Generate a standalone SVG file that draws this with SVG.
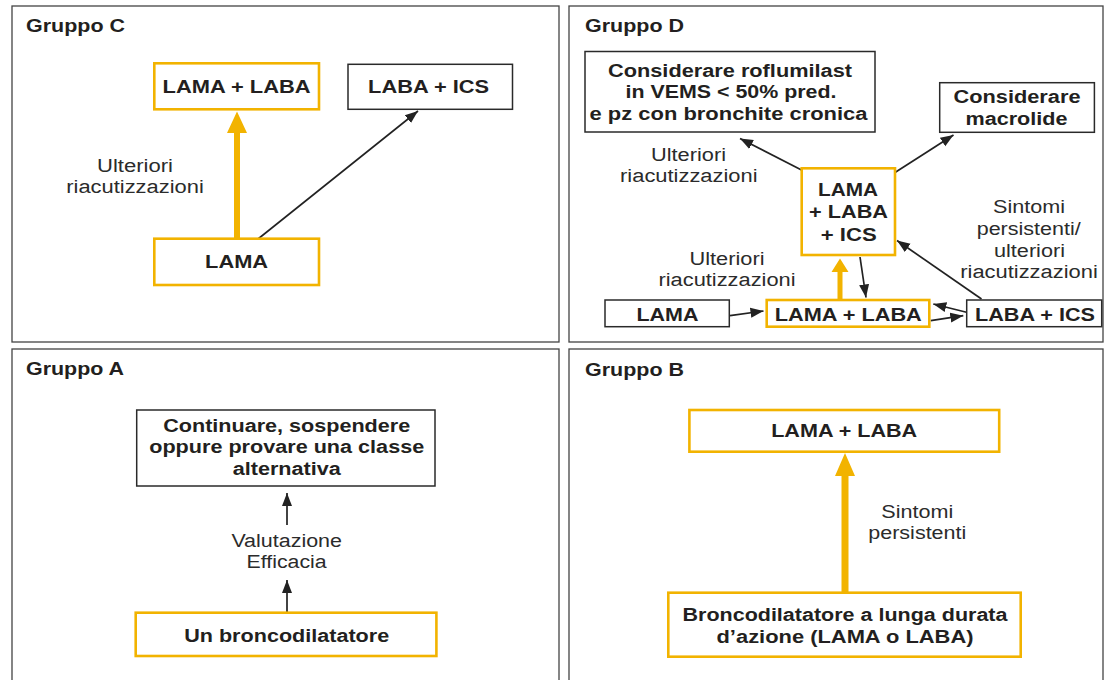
<svg xmlns="http://www.w3.org/2000/svg" width="1104" height="680" viewBox="0 0 1104 680">
<style>
.panel{fill:#fff;stroke:#444;stroke-width:1.3}
.nb{fill:#fff;stroke:#2a2a2a;stroke-width:1.5}
.no{fill:#fff;stroke:#F2B300;stroke-width:2.6}
.t{font-family:"Liberation Sans",Arial,sans-serif;font-size:18px;font-weight:bold;fill:#231f20;text-anchor:middle}
.h{font-family:"Liberation Sans",Arial,sans-serif;font-size:18px;font-weight:bold;fill:#231f20}
.l{font-family:"Liberation Sans",Arial,sans-serif;font-size:18px;fill:#2b2b2b;text-anchor:middle}
.c{stroke:#222;stroke-width:1.7;fill:none;marker-end:url(#ah)}
.o{fill:#F2B300;stroke:none}
</style>
<defs>
<marker id="ah" markerUnits="userSpaceOnUse" markerWidth="14" markerHeight="12" refX="13" refY="5" orient="auto" viewBox="0 0 14 10">
<path d="M0,0 L13,5 L0,10 Z" fill="#222"/>
</marker>
</defs>
<rect x="0" y="0" width="1104" height="680" fill="#fff"/>

<g id="panel-C">
<rect class="panel" x="12" y="6" width="547" height="336"/>
<text class="h" x="26" y="31.5" textLength="99" lengthAdjust="spacingAndGlyphs">Gruppo C</text>
</g>
<g id="panel-D">
<rect class="panel" x="569" y="6" width="534" height="336"/>
<text class="h" x="585" y="31.5" textLength="99" lengthAdjust="spacingAndGlyphs">Gruppo D</text>
</g>
<g id="panel-A">
<rect class="panel" x="12" y="349" width="547" height="345"/>
<text class="h" x="26" y="375" textLength="98" lengthAdjust="spacingAndGlyphs">Gruppo A</text>
</g>
<g id="panel-B">
<rect class="panel" x="569" y="349" width="534" height="345"/>
<text class="h" x="585" y="375.5" textLength="99" lengthAdjust="spacingAndGlyphs">Gruppo B</text>
</g>

<g id="connectors">
<path class="o" d="M234,239 V133 H227 L237,111.5 L247,133 H240 V239 Z"/>
<line class="c" x1="258" y1="239" x2="418" y2="111"/>
<line class="c" x1="801.5" y1="170" x2="740" y2="138.5"/>
<line class="c" x1="895" y1="172.5" x2="953.5" y2="135"/>
<path class="o" d="M837.5,300 V272 H831.5 L840,258.5 L848.5,272 H842.5 V300 Z"/>
<line class="c" x1="860" y1="257" x2="866" y2="297.5"/>
<line class="c" x1="981.5" y1="299" x2="897" y2="240.5"/>
<line class="c" x1="730" y1="315.7" x2="763.5" y2="311"/>
<line class="c" x1="966.5" y1="312.3" x2="933.3" y2="304"/>
<line class="c" x1="930.7" y1="320.7" x2="963.3" y2="315.7"/>
<line class="c" x1="287" y1="525" x2="287" y2="493"/>
<line class="c" x1="287" y1="612" x2="287" y2="580"/>
<path class="o" d="M841.5,592 V476 H835 L845,453 L855,476 H848.5 V592 Z"/>
</g>

<g id="c-lama-laba">
<rect class="no" x="154.3" y="63.3" width="164.7" height="46"/>
<text class="t" x="236.6" y="93" textLength="148" lengthAdjust="spacingAndGlyphs">LAMA + LABA</text>
</g>
<g id="c-laba-ics">
<rect class="nb" x="348" y="64.3" width="164.5" height="45"/>
<text class="t" x="428.6" y="93" textLength="121" lengthAdjust="spacingAndGlyphs">LABA + ICS</text>
</g>
<g id="c-lama">
<rect class="no" x="154.3" y="238.7" width="164.7" height="46.3"/>
<text class="t" x="236.6" y="268" textLength="63" lengthAdjust="spacingAndGlyphs">LAMA</text>
</g>
<g id="c-label">
<text class="l" x="135" y="171.5" textLength="76" lengthAdjust="spacingAndGlyphs">Ulteriori</text>
<text class="l" x="135" y="192.5" textLength="137.5" lengthAdjust="spacingAndGlyphs">riacutizzazioni</text>
</g>

<g id="d-roflumilast">
<rect class="nb" x="585" y="51.5" width="290" height="80.5"/>
<text class="t" x="730" y="76.7" textLength="244" lengthAdjust="spacingAndGlyphs">Considerare roflumilast</text>
<text class="t" x="731" y="98.3" textLength="211" lengthAdjust="spacingAndGlyphs">in VEMS &lt; 50% pred.</text>
<text class="t" x="728.5" y="120" textLength="278" lengthAdjust="spacingAndGlyphs">e pz con bronchite cronica</text>
</g>
<g id="d-macrolide">
<rect class="nb" x="939.7" y="82.7" width="154.7" height="49.6"/>
<text class="t" x="1017" y="103.3" textLength="127" lengthAdjust="spacingAndGlyphs">Considerare</text>
<text class="t" x="1016.5" y="125" textLength="102" lengthAdjust="spacingAndGlyphs">macrolide</text>
</g>
<g id="d-triple">
<rect class="no" x="801.7" y="168.3" width="93.3" height="86.7"/>
<text class="t" x="848" y="196" textLength="60" lengthAdjust="spacingAndGlyphs">LAMA</text>
<text class="t" x="848.5" y="218.3" textLength="79" lengthAdjust="spacingAndGlyphs">+ LABA</text>
<text class="t" x="848.7" y="240.7" textLength="56" lengthAdjust="spacingAndGlyphs">+ ICS</text>
</g>
<g id="d-lama">
<rect class="nb" x="605" y="300" width="124.3" height="26.7"/>
<text class="t" x="667.5" y="320.7" textLength="62" lengthAdjust="spacingAndGlyphs">LAMA</text>
</g>
<g id="d-lama-laba">
<rect class="no" x="766.7" y="300" width="162.6" height="26.7"/>
<text class="t" x="848.3" y="320.7" textLength="147" lengthAdjust="spacingAndGlyphs">LAMA + LABA</text>
</g>
<g id="d-laba-ics">
<rect class="nb" x="966.7" y="300" width="135" height="26.7"/>
<text class="t" x="1035" y="320.7" textLength="120" lengthAdjust="spacingAndGlyphs">LABA + ICS</text>
</g>
<g id="d-label-upper">
<text class="l" x="688.5" y="160.7" textLength="75" lengthAdjust="spacingAndGlyphs">Ulteriori</text>
<text class="l" x="688.8" y="181.7" textLength="137.5" lengthAdjust="spacingAndGlyphs">riacutizzazioni</text>
</g>
<g id="d-label-right">
<text class="l" x="1029" y="213.3" textLength="72" lengthAdjust="spacingAndGlyphs">Sintomi</text>
<text class="l" x="1028.7" y="235" textLength="104" lengthAdjust="spacingAndGlyphs">persistenti/</text>
<text class="l" x="1029.5" y="256.7" textLength="71" lengthAdjust="spacingAndGlyphs">ulteriori</text>
<text class="l" x="1029" y="277.7" textLength="137.5" lengthAdjust="spacingAndGlyphs">riacutizzazioni</text>
</g>
<g id="d-label-lower">
<text class="l" x="727" y="265" textLength="75" lengthAdjust="spacingAndGlyphs">Ulteriori</text>
<text class="l" x="727" y="286" textLength="137" lengthAdjust="spacingAndGlyphs">riacutizzazioni</text>
</g>

<g id="a-continuare">
<rect class="nb" x="136.7" y="410" width="298.3" height="76"/>
<text class="t" x="286.7" y="431.7" textLength="247" lengthAdjust="spacingAndGlyphs">Continuare, sospendere</text>
<text class="t" x="286.7" y="453.3" textLength="275" lengthAdjust="spacingAndGlyphs">oppure provare una classe</text>
<text class="t" x="286.7" y="474.5" textLength="108" lengthAdjust="spacingAndGlyphs">alternativa</text>
</g>
<g id="a-label">
<text class="l" x="286.7" y="546.7" textLength="110.6" lengthAdjust="spacingAndGlyphs">Valutazione</text>
<text class="l" x="286.6" y="567.7" textLength="80" lengthAdjust="spacingAndGlyphs">Efficacia</text>
</g>
<g id="a-bronco">
<rect class="no" x="135.7" y="612.7" width="300.7" height="43.3"/>
<text class="t" x="286.7" y="641.7" textLength="205" lengthAdjust="spacingAndGlyphs">Un broncodilatatore</text>
</g>

<g id="b-lama-laba">
<rect class="no" x="689.4" y="410" width="309.8" height="41.7"/>
<text class="t" x="844.2" y="436.7" textLength="146" lengthAdjust="spacingAndGlyphs">LAMA + LABA</text>
</g>
<g id="b-label">
<text class="l" x="917.3" y="518.3" textLength="72" lengthAdjust="spacingAndGlyphs">Sintomi</text>
<text class="l" x="917.3" y="539.3" textLength="98" lengthAdjust="spacingAndGlyphs">persistenti</text>
</g>
<g id="b-bronco">
<rect class="no" x="668.3" y="592.7" width="352.4" height="64"/>
<text class="t" x="845" y="620.7" textLength="325" lengthAdjust="spacingAndGlyphs">Broncodilatatore a lunga durata</text>
<text class="t" x="845" y="643.3" textLength="257" lengthAdjust="spacingAndGlyphs">d’azione (LAMA o LABA)</text>
</g>
</svg>
